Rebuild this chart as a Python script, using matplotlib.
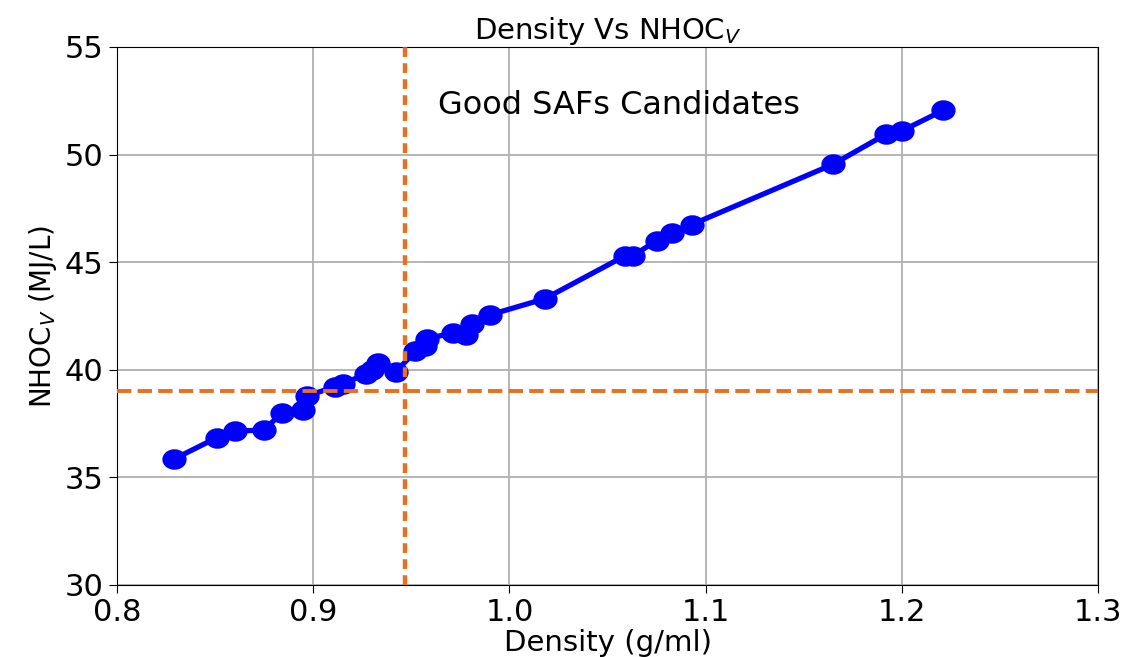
import matplotlib
matplotlib.use('Agg')
import matplotlib.pyplot as plt
from matplotlib.path import Path
import numpy as np

# density (g/ml) and volumetric NHOC (MJ/L)
density = [0.829, 0.851, 0.860, 0.875, 0.884, 0.895, 0.897, 0.911, 0.915,
           0.927, 0.930, 0.933, 0.942, 0.952, 0.957, 0.958, 0.971, 0.978,
           0.981, 0.990, 1.018, 1.059, 1.063, 1.075, 1.083, 1.093, 1.165,
           1.192, 1.200, 1.221]
nhoc_v = [35.85, 36.85, 37.15, 37.2, 38.0, 38.15, 38.8, 39.2, 39.35,
          39.8, 40.0, 40.3, 39.9, 40.85, 41.1, 41.45, 41.7, 41.6,
          42.15, 42.55, 43.3, 45.3, 45.3, 46.0, 46.35, 46.75, 49.55,
          50.95, 51.1, 52.05]

density_limit = 0.947
nhoc_limit = 39.0

# slightly wide round marker (the reference image is stretched sideways)
circ = Path.unit_circle()
wide_dot = Path(circ.vertices * np.array([1.2, 1.0]), circ.codes)

fig = plt.figure(figsize=(11.27, 6.57), dpi=100)
ax = fig.add_axes([0.1038, 0.1096, 0.8705, 0.8189])

ax.plot(density, nhoc_v, color='#0000ff', marker=wide_dot, markersize=16.5,
        linewidth=3.8, zorder=3)
ax.axvline(density_limit, color='#e8701e', linewidth=3.2, dashes=(2.2, 1.4), zorder=4)
ax.axhline(nhoc_limit, color='#e8701e', linewidth=2.8, linestyle='--', zorder=4)

ax.text(0.9635, 52.3, 'Good SAFs Candidates', fontsize=23, va='center', ha='left')

ax.set_xlim(0.8, 1.3)
ax.set_ylim(30, 55)
ax.set_xticks([0.8, 0.9, 1.0, 1.1, 1.2, 1.3])
ax.set_yticks([30, 35, 40, 45, 50, 55])
ax.tick_params(labelsize=22, length=6)
ax.grid(True, color='#b0b0b0', linewidth=1.3)
ax.set_axisbelow(True)

ax.set_xlabel('Density (g/ml)', fontsize=21, labelpad=1)
ax.set_ylabel('NHOC$_V$ (MJ/L)', fontsize=20, labelpad=4)
ax.set_title('Density Vs NHOC$_V$', fontsize=21, pad=3)

plt.savefig('out.png', dpi=100)
